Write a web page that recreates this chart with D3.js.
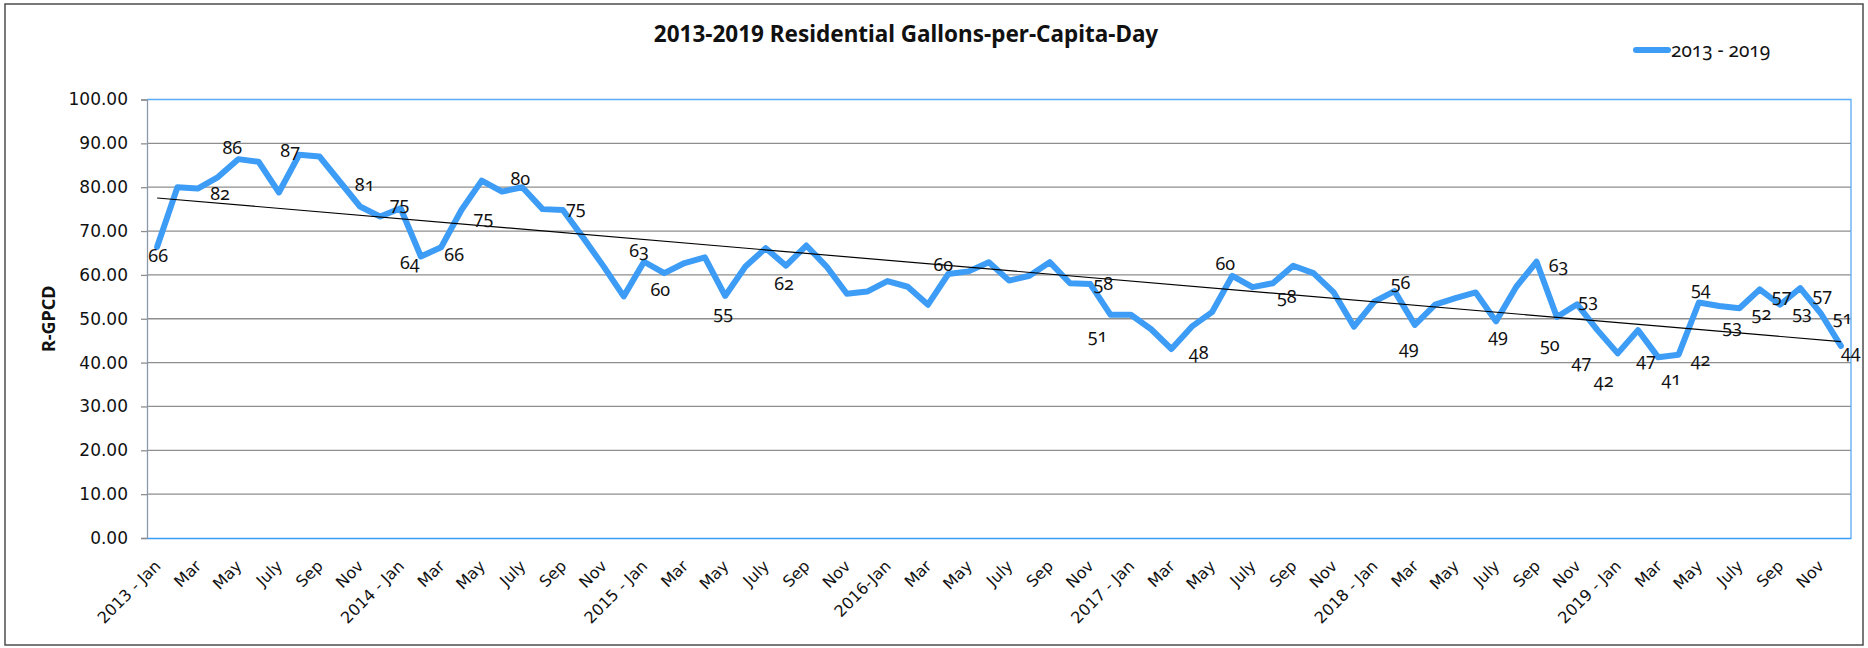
<!DOCTYPE html>
<html>
<head>
<meta charset="utf-8">
<script src="https://cdn.jsdelivr.net/npm/d3@7"></script>
<style>
  html, body { margin: 0; padding: 0; background: #fff; }
  svg { display: block; font-family: "Noto Sans", "Open Sans", sans-serif; }
  .onum { font-variant-numeric: oldstyle-nums; }
</style>
</head>
<body>
<svg id="chart" width="1868" height="648"></svg>
<script>
// ---------------- DATA ----------------
const years = ["2013", "2014", "2015", "2016", "2017", "2018", "2019"];
const months = ["Jan", "Feb", "Mar", "Apr", "May", "Jun", "Jul", "Aug", "Sep", "Oct", "Nov", "Dec"];

const tickLabels = [
  "2013 - Jan", "Mar", "May", "July", "Sep", "Nov",
  "2014 - Jan", "Mar", "May", "July", "Sep", "Nov",
  "2015 - Jan", "Mar", "May", "July", "Sep", "Nov",
  "2016-Jan", "Mar", "May", "July", "Sep", "Nov",
  "2017 - Jan", "Mar", "May", "July", "Sep", "Nov",
  "2018 - Jan", "Mar", "May", "July", "Sep", "Nov",
  "2019 - Jan", "Mar", "May", "July", "Sep", "Nov"
];

// Residential gallons per capita per day, monthly 2013-01 .. 2019-12
const gpcd = [
  66.4, 80.0, 79.7, 82.3, 86.4, 85.8, 78.8, 87.4, 87.0, 81.3, 75.6, 73.3,
  75.2, 64.2, 66.3, 74.8, 81.5, 79.0, 80.0, 75.0, 74.8, 68.5, 62.0, 55.1,
  63.0, 60.4, 62.7, 64.0, 55.2, 61.9, 66.1, 62.1, 66.7, 61.9, 55.7, 56.2,
  58.6, 57.3, 53.2, 60.2, 60.8, 62.9, 58.7, 59.8, 62.9, 58.1, 57.9, 50.9,
  50.9, 47.6, 43.1, 48.2, 51.5, 59.8, 57.2, 58.1, 62.1, 60.4, 56.0, 48.2,
  53.9, 56.3, 48.6, 53.2, 54.7, 56.0, 49.4, 57.3, 63.0, 50.4, 53.3, 47.4,
  42.1, 47.4, 41.2, 41.8, 53.7, 52.9, 52.4, 56.7, 53.2, 57.0, 51.3, 43.8
];

// months that carry a data label (index into gpcd)
const labelIdx = [0, 3, 4, 7, 9, 12, 13, 14, 15, 18, 20, 24, 25, 28, 31, 39, 46, 47, 51, 53,
                  55, 61, 62, 66, 68, 69, 70, 71, 72, 73, 74, 75, 76, 77, 78, 79, 80, 81, 82, 83];

const yTicks = [0, 10, 20, 30, 40, 50, 60, 70, 80, 90, 100];
const seriesName = "2013 - 2019";
const chartTitle = "2013-2019 Residential Gallons-per-Capita-Day";
const yTitle = "R-GPCD";

// ---------------- LAYOUT (not data) ----------------
// label center offsets from the data point, as placed in the original
const labelOffsets = [
  [1, 8], [2, 16], [-6, -12], [-9, -5], [25, 3], [-1, -5], [-11, 6], [13, 7], [22, 7], [-2, -9],
  [13, -3], [-5, -12], [-4, 16], [-2, 16], [-2, 17], [-5, -10], [13, -1], [-13, 20], [7, 25], [-7, -13],
  [14, 13], [6, -9], [-6, 22], [2, 14], [22, 3], [-7, 27], [11, -4], [-16, 31], [-14, 27], [8, 29],
  [13, 21], [22, 4], [2, -15], [13, 20], [22, 5], [22, 6], [22, 7], [22, 6], [22, 4], [10, 5]
];

const PL = 147, PR = 1851, PT = 99.5, PB = 538;
const BLUE = "#3d9cf5";

// ---------------- BUILD ----------------
const categories = d3.cross(years, months).map(([yr, m]) => yr + "-" + m);
const svg = d3.select("#chart");

// outer chart border
svg.append("rect").attr("x", 5).attr("y", 4).attr("width", 1858).attr("height", 641)
  .attr("fill", "#fff").attr("stroke", "#4d4d4d").attr("stroke-width", 1.5);

const x = d3.scaleBand().domain(categories).range([PL, PR]).padding(0);
const y = d3.scaleLinear().domain([0, 100]).range([PB, PT]);
const cx = c => x(c) + x.bandwidth() / 2;

// gridlines
svg.append("g").selectAll("line")
  .data(yTicks.filter(t => t > 0 && t < 100))
  .join("line")
  .attr("x1", PL).attr("x2", PR)
  .attr("y1", d => y(d)).attr("y2", d => y(d))
  .attr("stroke", "#8e8e8e").attr("stroke-width", 1.3);

// plot area border (top / right)
svg.append("path")
  .attr("d", `M${PL},${PT}H${PR}V${PB}`)
  .attr("fill", "none").attr("stroke", "#5aaaf5").attr("stroke-width", 1.3);

// y axis
const yAxis = svg.append("g").attr("transform", `translate(${PL},0)`)
  .call(d3.axisLeft(y).tickValues(yTicks).tickFormat(d3.format(".2f")).tickSize(6).tickPadding(13));
yAxis.select(".domain").attr("stroke", "#8a98aa").attr("stroke-width", 1.3);
yAxis.selectAll(".tick line").attr("stroke", "#8e8e8e").attr("stroke-width", 1.3);
yAxis.selectAll(".tick text")
  .style("font-size", "17px").style("font-family", "'DejaVu Sans', sans-serif").attr("fill", "#111");

// x axis
const evenCats = categories.filter((c, i) => i % 2 === 0);
const xAxis = svg.append("g").attr("transform", `translate(0,${PB})`)
  .call(d3.axisBottom(x).tickValues(evenCats)
    .tickFormat((c) => tickLabels[evenCats.indexOf(c)]).tickSize(0).tickPadding(0));
xAxis.select(".domain").attr("stroke", BLUE).attr("stroke-width", 1.5);
xAxis.selectAll(".tick text")
  .style("font-size", "16px").style("font-family", "'DejaVu Sans', sans-serif").attr("fill", "#111")
  .attr("text-anchor", "end")
  .attr("dy", "0")
  .attr("y", 0)
  .attr("transform", "translate(4.5,29) rotate(-45)");

// trend line (least squares on index)
const n = gpcd.length;
const idx = d3.range(n);
const mx = d3.mean(idx), my = d3.mean(gpcd);
const slope = d3.sum(idx, i => (i - mx) * (gpcd[i] - my)) / d3.sum(idx, i => (i - mx) ** 2);
const icpt = my - slope * mx;

// series line
const pts = categories.map((c, i) => ({ c, v: gpcd[i] }));
svg.append("path")
  .datum(pts)
  .attr("fill", "none").attr("stroke", BLUE).attr("stroke-width", 6)
  .attr("stroke-linejoin", "round").attr("stroke-linecap", "round")
  .attr("d", d3.line().x(d => cx(d.c)).y(d => y(d.v)));

svg.append("line")
  .attr("x1", cx(categories[0])).attr("y1", y(icpt))
  .attr("x2", cx(categories[n - 1])).attr("y2", y(icpt + slope * (n - 1)))
  .attr("stroke", "#000").attr("stroke-width", 1.2);

// data labels
svg.append("g").selectAll("text")
  .data(labelIdx)
  .join("text")
  .attr("class", "onum")
  .attr("x", (d, k) => cx(categories[d]) + labelOffsets[k][0])
  .attr("y", (d, k) => y(gpcd[d]) + labelOffsets[k][1])
  .attr("text-anchor", "middle").attr("dominant-baseline", "central")
  .style("font-size", "18px").attr("fill", "#111")
  .text(d => d3.format(".0f")(gpcd[d]));

// title
svg.append("text").attr("x", 906).attr("y", 42).attr("text-anchor", "middle")
  .style("font-size", "22.5px").style("font-weight", "bold").attr("fill", "#111")
  .text(chartTitle);

// y title
svg.append("text").attr("transform", `translate(55,${(PT + PB) / 2}) rotate(-90)`)
  .attr("text-anchor", "middle")
  .style("font-size", "18px").style("font-weight", "bold").attr("fill", "#111")
  .text(yTitle);

// legend
svg.append("line").attr("x1", 1636).attr("x2", 1668).attr("y1", 50).attr("y2", 50)
  .attr("stroke", BLUE).attr("stroke-width", 6).attr("stroke-linecap", "round");
svg.append("text").attr("class", "onum").attr("x", 1671).attr("y", 57)
  .style("font-size", "19px").attr("fill", "#111").text(seriesName);
</script>
</body>
</html>
